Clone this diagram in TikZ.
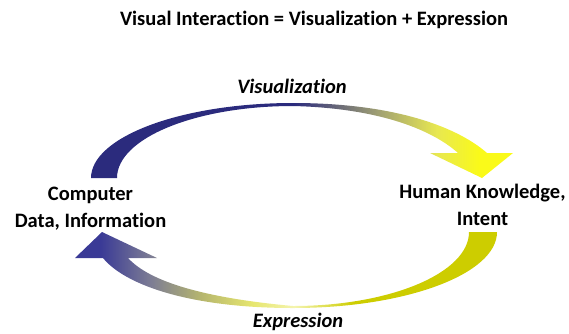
\documentclass[tikz,border=0pt]{standalone}
\usepackage{fontspec}
\setmainfont{Carlito}[Ligatures=NoCommon]
\usepackage{tikz}
\usetikzlibrary{positioning,
				calc}

\definecolor{navyarc}{RGB}{43,43,125}
\definecolor{olivegrey}{RGB}{160,160,115}
\definecolor{paleyel}{RGB}{232,232,80}
\definecolor{brightyel}{RGB}{250,250,25}
\definecolor{bluetip}{RGB}{58,58,150}
\definecolor{greyblue}{RGB}{125,125,148}
\definecolor{greyolive}{RGB}{182,182,110}
\definecolor{lightyel}{RGB}{230,230,110}
\definecolor{paleyeltop}{RGB}{244,244,175}
\definecolor{oliveyel}{RGB}{205,205,0}

\pgfdeclarehorizontalshading{visfade}{100bp}{color(0bp)=(navyarc); color(49bp)=(navyarc);
  color(59bp)=(olivegrey); color(66bp)=(paleyel); color(71bp)=(brightyel); color(100bp)=(brightyel)}
\pgfdeclarehorizontalshading{expfade}{100bp}{color(0bp)=(bluetip); color(28bp)=(bluetip);
  color(34bp)=(greyblue); color(40bp)=(greyolive); color(46bp)=(lightyel); color(51bp)=(paleyeltop);
  color(58bp)=(oliveyel); color(100bp)=(oliveyel)}

\begin{document}
\begin{tikzpicture}[x=1pt,y=-1pt,
  lbl/.style={font=\fontsize{20.5}{27}\selectfont\bfseries, align=center, inner sep=0pt},
  arclbl/.style={font=\fontsize{20.5}{27}\selectfont\bfseries\itshape, inner sep=0pt}]
  \useasboundingbox (0,0) rectangle (569,333);
  % visualization arc, computer -> human
  \shade[shading=visfade] (117,178) -- (91,178)
    .. controls (91,137) and (181,103) .. (293,103)
    .. controls (390,103) and (455,125) .. (487,153)
    -- (513,153) -- (482,178) -- (430,153) -- (458,153)
    .. controls (430,128) and (375,108) .. (293,106)
    .. controls (196,106) and (117,138) .. (117,178) -- cycle;
  % expression arc, human -> computer
  \shade[shading=expfade] (469,232) -- (497,232)
    .. controls (497,274) and (406,308) .. (293,308)
    .. controls (190,308) and (125,285) .. (103,258)
    -- (75,258) -- (102,232) -- (157,258) -- (128,258)
    .. controls (150,282) and (205,298) .. (293,306)
    .. controls (390,306) and (469,273) .. (469,232) -- cycle;
  \node[lbl, anchor=base] (title) at (314,25) {Visual Interaction = Visualization + Expression};
  \node[arclbl, anchor=base] (vis) at (292,93) {Visualization};
  \node[arclbl, anchor=base] (expr) at (298,327) {Expression};
  \node[lbl, anchor=base] (comp) at (90.5,227) {Computer\\Data, Information};
  \node[lbl, anchor=base] (human) at (482.5,225) {Human Knowledge,\\Intent};
\end{tikzpicture}
\end{document}
